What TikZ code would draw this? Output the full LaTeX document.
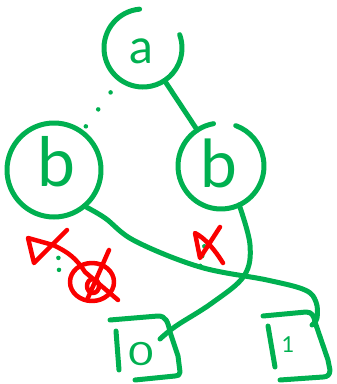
\documentclass[tikz,border=0pt]{standalone}
\usepackage{fontspec}
\setmainfont{Lato}
\usetikzlibrary{calc}
\definecolor{pen}{RGB}{0,176,80}
\definecolor{redpen}{RGB}{250,0,0}
\begin{document}
\begin{tikzpicture}[x=1pt,y=-1pt,
  stroke/.style={draw=pen,line width=5pt,line cap=round,line join=round},
  rstroke/.style={draw=redpen,line width=4.5pt,line cap=round,line join=round},
  dotline/.style={draw=pen,line width=4.5pt,line cap=round,dash pattern=on 0.01pt off 21pt},
  vnode/.style={circle,inner sep=0pt,outer sep=0pt},
  lbl/.style={text=pen,inner sep=0pt},
  tnode/.style={inner sep=0pt,outer sep=0pt,text=pen}]
\useasboundingbox (0,0) rectangle (337,384);
% variable nodes
\node[vnode,minimum size=78pt,label={[lbl,font=\fontsize{48}{48}\selectfont,xshift=-2pt,yshift=-3pt]center:a}] (a) at (143,48) {};
\node[vnode,minimum size=94pt,label={[lbl,font=\fontsize{68}{68}\selectfont,xshift=3pt,yshift=8pt]center:b}] (lb) at (54,170) {};
\node[vnode,minimum size=86pt,label={[lbl,font=\fontsize{66}{66}\selectfont,xshift=-2pt,yshift=3pt]center:b}] (rb) at (221,166) {};
\draw[stroke] (a.95) arc[start angle=95,end angle=380,radius=39pt];
\draw[stroke] (lb) circle[radius=47pt];
\draw[stroke] (rb.100) arc[start angle=100,end angle=430,radius=43pt];
% terminal nodes
\node[tnode,font=\fontsize{32}{32}\selectfont] (t0) at (141,354) {\scalebox{1.35}[1]{0}};
\node[tnode,font=\fontsize{22}{22}\selectfont] (t1) at (288,345) {1};
\draw[stroke] (110,320) -- (158,316) .. controls (166,316) and (168,322) .. (170,332) -- (178,356) -- (180,372) .. controls (180,375) and (178,376) .. (175,376) -- (135,380);
\draw[stroke] (116,331) -- (119,370);
\draw[stroke] (263,316) -- (306,312) .. controls (312,312) and (314,316) .. (315,322) -- (328,360) -- (330,370) .. controls (330,375) and (327,377) .. (323,377) -- (280,380);
\draw[stroke] (268,326) -- (275,367);
% edges
\draw[dotline,shorten <=58pt,shorten >=50pt] (a) -- (lb);
\draw[stroke] (a) -- (rb);
\coordinate (ls) at (58,250);
\coordinate (rs) at (205,243);
\draw[dotline,dash pattern=on 0.01pt off 12pt,shorten <=53pt] (lb) -- (ls);
\draw[dotline,dash pattern=on 0.01pt off 10pt,shorten <=59pt] (rb) -- (rs);
\draw[stroke] plot[smooth,tension=0.6] coordinates {(lb.-50) (105,218) (135,241) (200,267) (267,280) (305,290) (316,302) ($(t1)+(29,-27)$) ($(t1)+(24,-20)$)};
\draw[stroke] plot[smooth,tension=0.6] coordinates {(rb.-65) (250,245) (244,276) (212,303) (176,326) ($(t0)+(19,-15)$)};
% red marks
\draw[rstroke] (67,230) -- (34,263) -- (28,238) -- (53,245) .. controls (68,252) and (76,258) .. (85,272) -- (118,300);
\draw[rstroke] (92,282) ellipse[x radius=22pt,y radius=19pt];
\draw[rstroke] (93,286) ellipse[x radius=6pt,y radius=7pt];
\draw[rstroke] (109,250) -- (87,300);
\draw[rstroke] (220,227) -- (200,258) -- (195,233) .. controls (205,238) and (215,250) .. (223,263);
\end{tikzpicture}
\end{document}
